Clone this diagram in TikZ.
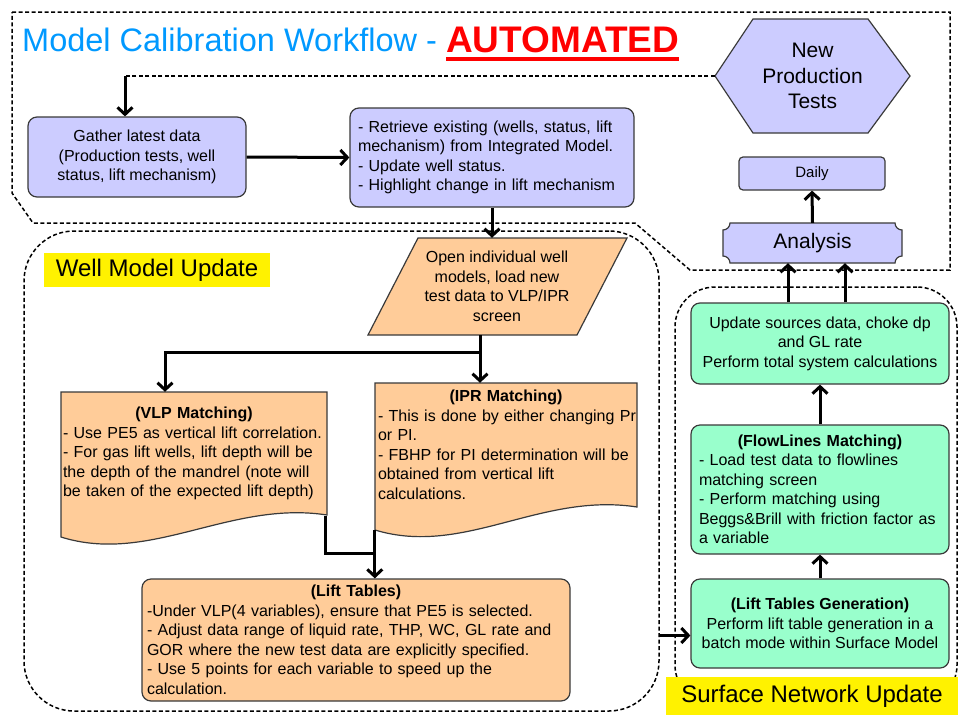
\documentclass[tikz,border=0pt]{standalone}
\usepackage{fontspec}
\setmainfont{Liberation Sans}
\usetikzlibrary{arrows.meta,calc}
\definecolor{lav}{HTML}{CCCCFF}
\definecolor{peach}{HTML}{FFCC99}
\definecolor{mint}{HTML}{99FFCC}
\definecolor{titleblue}{HTML}{0099FF}
\definecolor{edge}{HTML}{3A3A3A}
\begin{document}
\begin{tikzpicture}[x=1pt,y=-1pt,
  txt/.style={font=\fontsize{16}{19.5}\selectfont, inner sep=0pt},
  box/.style={txt, draw=edge, line width=1.2pt, rounded corners=9pt},
  lavbox/.style={box, fill=lav},
  peachbox/.style={box, fill=peach},
  mintbox/.style={box, fill=mint},
  outline/.style={draw=edge, line width=1.2pt},
  region/.style={draw=black, line width=1.5pt, dash pattern=on 4pt off 2.5pt},
  dashlink/.style={draw=black, line width=1.5pt, dash pattern=on 4pt off 2.5pt},
  arr/.style={draw=black, line width=3pt, -{Straight Barb[length=7pt,width=15pt]}},
  link/.style={draw=black, line width=3pt},
  tag/.style={fill=yellow, inner sep=0pt, font=\fontsize{24}{28}\selectfont},
]
\useasboundingbox (0,0) rectangle (963,715);
\fill[white] (0,0) rectangle (963,715);

% dashed grouping regions
\draw[region] (12,12) -- (950,12) -- (950,270) -- (690,270) -- (635,223) -- (33,223) -- (12,193) -- cycle;
\node[region, rounded corners=50pt, minimum width=635pt, minimum height=480pt, inner sep=0pt] (wellregion) at (341.5,471) {};
\node[region, rounded corners=40pt, minimum width=282pt, minimum height=418pt, inner sep=0pt] (surfregion) at (816,496) {};

% title
\node[anchor=base west, text=titleblue, font=\fontsize{32.5}{36}\selectfont, inner sep=0pt] (title) at (22,51) {Model Calibration Workflow -};
\node[anchor=base west, text=red, font=\fontsize{37}{40}\selectfont\bfseries, inner sep=0pt] (auto) at (446,52) {AUTOMATED};
\draw[red, line width=3.5pt] ([yshift=-7pt]auto.base west) -- ([yshift=-7pt]auto.base east);

% region labels
\node[tag, minimum width=226pt, minimum height=34pt] (welltag) at (157,270) {Well Model Update};
\node[tag, minimum width=292pt, minimum height=38pt] (surftag) at (812,696) {Surface Network Update};

% hexagon: new production tests
\path[outline, fill=lav] (715,76) -- (753,19) -- (868,19) -- (910,76) -- (868,133) -- (753,133) -- cycle;
\node[inner sep=0pt, font=\fontsize{21}{25.5}\selectfont, align=center, minimum width=195pt, minimum height=114pt] (newtests) at (812.5,76) {New\\Production\\Tests};

% top row
\node[lavbox, minimum width=218pt, minimum height=80pt, align=center] (gather) at (137,157)
  {Gather latest data\\(Production tests, well\\status, lift mechanism)};
\node[lavbox, minimum width=284pt, minimum height=99pt, text width=268pt, align=left] (retrieve) at (492,157.5)
  {- Retrieve existing (wells, status, lift\\mechanism) from Integrated Model.\\- Update well status.\\- Highlight change in lift mechanism};

% parallelogram
\path[outline, fill=peach] (418,238) -- (627,238) -- (577,335) -- (368,335) -- cycle;
\node[txt, align=center, minimum width=209pt, minimum height=97pt] (openmodels) at (497,286.5)
  {Open individual well\\models, load new\\test data to VLP/IPR\\screen};

% document shapes
\path[outline, fill=peach] (61,392) -- (327,392) -- (327,515) .. controls (230,500) and (150,565) .. (61,537) -- cycle;
\node[txt, minimum width=266pt, minimum height=123pt, text width=262pt, align=left] (vlp) at (194,453.5)
  {\makebox[\linewidth][c]{\bfseries(VLP Matching)}\\- Use PE5 as vertical lift correlation.\\- For gas lift wells, lift depth will be\\the depth of the mandrel (note will\\be taken of the expected lift depth)};
\path[outline, fill=peach] (375,383) -- (637,383) -- (637,507) .. controls (540,492) and (464,557) .. (375,530) -- cycle;
\node[txt, minimum width=262pt, minimum height=124pt, text width=262pt, align=left] (ipr) at (509,445)
  {\makebox[256pt][c]{\bfseries(IPR Matching)}\\- This is done by either changing Pr\\or PI.\\- FBHP for PI determination will be\\obtained from vertical lift\\calculations.};

% lift tables
\node[peachbox, minimum width=428pt, minimum height=122pt, text width=418pt, align=left] (lifttables) at (356,640)
  {\makebox[\linewidth][c]{\bfseries(Lift Tables)}\\-Under VLP(4 variables), ensure that PE5 is selected.\\- Adjust data range of liquid rate, THP, WC, GL rate and\\GOR where the new test data are explicitly specified.\\- Use 5 points for each variable to speed up the\\calculation.};

% surface network column
\node[mintbox, minimum width=258pt, minimum height=81pt, align=center] (update) at (820,343.5)
  {Update sources data, choke dp\\and GL rate\\Perform total system calculations};
\node[mintbox, minimum width=258pt, minimum height=129pt, text width=242pt, align=left] (flowlines) at (820,489.5)
  {\makebox[\linewidth][c]{\bfseries(FlowLines Matching)}\\- Load test data to flowlines\\matching screen\\- Perform matching using\\Beggs\&Brill with friction factor as\\a variable};
\node[mintbox, minimum width=258pt, minimum height=89pt, align=center] (liftgen) at (820,623.5)
  {\textbf{(Lift Tables Generation)}\\Perform lift table generation in a\\batch mode within Surface Model};

% analysis and daily
\path[outline, fill=lav] (730,223) -- (895,223) .. controls (895,226.85) and (898.15,230) .. (902,230)
  -- (902,256) .. controls (898.15,256) and (895,259.15) .. (895,263)
  -- (730,263) .. controls (730,259.15) and (726.85,256) .. (723,256)
  -- (723,230) .. controls (726.85,230) and (730,226.85) .. (730,223) -- cycle;
\node[inner sep=0pt, font=\fontsize{21}{24}\selectfont, minimum width=179pt, minimum height=40pt] (analysis) at (812.5,243) {Analysis};
\node[lavbox, rounded corners=4pt, font=\fontsize{15}{18}\selectfont, minimum width=146pt, minimum height=33pt] (daily) at (812,173.5) {Daily};

% connectors
\coordinate (drop) at (125,76);
\draw[dashlink] (newtests.west) -- (drop);
\draw[arr] (drop) -- (drop |- gather.north);
\draw[arr] (gather.east) -- (retrieve.west);
\draw[arr] (retrieve.south) -- (retrieve.south |- openmodels.north);

\coordinate (split) at (480,352);
\draw[link] (split |- openmodels.south) -- (split);
\draw[arr] (split) -| ([xshift=-29pt]vlp.north);
\draw[arr] (split) -- (split |- ipr.north);

\coordinate (join) at (375,553);
\draw[link] ([xshift=-2pt,yshift=-1pt]vlp.south east) |- (join);
\draw[arr] ([xshift=-3pt,yshift=-23pt]ipr.south west) -- ([xshift=-3pt]ipr.south west |- lifttables.north);

\coordinate (handoff) at ([yshift=-12pt]liftgen.west);
\draw[arr] (wellregion.east |- handoff) -- (handoff);
\draw[arr] (liftgen.north) -- (flowlines.south);
\draw[arr] (flowlines.north) -- (update.south);
\draw[arr] ([xshift=-32pt]update.north) -- ([xshift=-32pt]update.north |- analysis.south);
\draw[arr] ([xshift=25pt]update.north) -- ([xshift=25pt]update.north |- analysis.south);
\draw[arr] (analysis.north) -- (daily.south);
\end{tikzpicture}
\end{document}
